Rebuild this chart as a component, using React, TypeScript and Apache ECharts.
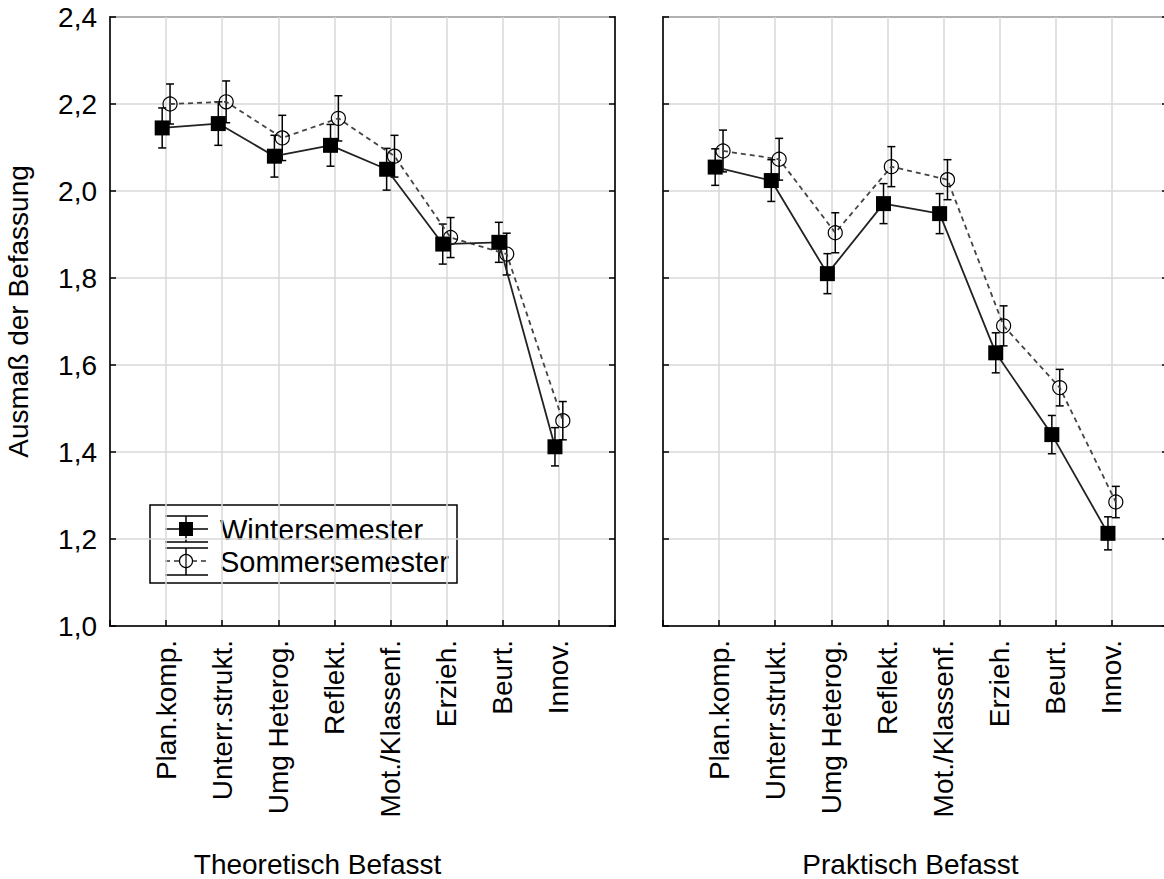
import React, { useEffect, useRef } from "react";
import * as echarts from "echarts";

const categories = [
  "Plan.komp.",
  "Unterr.strukt.",
  "Umg Heterog.",
  "Reflekt.",
  "Mot./Klassenf.",
  "Erzieh.",
  "Beurt.",
  "Innov.",
];
const panelTitles = ["Theoretisch Befasst", "Praktisch Befasst"];
const seriesNames = ["Wintersemester", "Sommersemester"];
const yAxisTitle = "Ausmaß der Befassung";
const yTickValues = [1.0, 1.2, 1.4, 1.6, 1.8, 2.0, 2.2, 2.4];

// Theoretisch Befasst
const theoWinter = [2.145, 2.155, 2.08, 2.105, 2.05, 1.878, 1.882, 1.412];
const theoWinterErr = [0.046, 0.05, 0.048, 0.048, 0.048, 0.046, 0.046, 0.044];
const theoSummer = [2.2, 2.205, 2.122, 2.167, 2.08, 1.893, 1.855, 1.472];
const theoSummerErr = [0.046, 0.048, 0.052, 0.052, 0.048, 0.046, 0.048, 0.044];
// Praktisch Befasst
const prakWinter = [2.055, 2.024, 1.81, 1.971, 1.948, 1.628, 1.44, 1.213];
const prakWinterErr = [0.042, 0.048, 0.046, 0.046, 0.046, 0.046, 0.044, 0.038];
const prakSummer = [2.092, 2.073, 1.904, 2.056, 2.026, 1.69, 1.548, 1.285];
const prakSummerErr = [0.048, 0.048, 0.046, 0.046, 0.046, 0.046, 0.042, 0.036];

const FONT = "Liberation Sans, Arial, sans-serif";
const FS = 28;
const OFFSET = 0.07;
const GRID_COLOR = "#d9d9d9";
const TITLE_PADDING = [
  [0, 90, 0, 0],
  [0, 10, 0, 0],
];

function pts(vals: number[], off: number) {
  return vals.map((v, i) => [i + 1 + off, v]);
}
function errs(vals: number[], e: number[], off: number) {
  return vals.map((v, i) => [i + 1 + off, v - e[i], v + e[i]]);
}

function errorRender(params: any, api: any) {
  const x = api.value(0);
  const lo = api.coord([x, api.value(1)]);
  const hi = api.coord([x, api.value(2)]);
  const cap = 4;
  const style = { stroke: "#000", lineWidth: 1.5 };
  return {
    type: "group",
    children: [
      { type: "line", shape: { x1: lo[0], y1: lo[1], x2: hi[0], y2: hi[1] }, style },
      { type: "line", shape: { x1: lo[0] - cap, y1: lo[1], x2: lo[0] + cap, y2: lo[1] }, style },
      { type: "line", shape: { x1: hi[0] - cap, y1: hi[1], x2: hi[0] + cap, y2: hi[1] }, style },
    ],
  };
}

export default function App() {
  const ref = useRef<HTMLDivElement>(null);
  useEffect(() => {
    if (!ref.current) return;
    const chart = echarts.init(ref.current, null, { renderer: "svg" });

    const xAxisBase = (gridIndex: number) => ({
      type: "value",
      gridIndex,
      min: 0,
      max: 9,
      interval: 1,
      name: panelTitles[gridIndex],
      nameLocation: "middle",
      nameGap: 224,
      nameTextStyle: { fontSize: FS, color: "#000", fontFamily: FONT, padding: TITLE_PADDING[gridIndex] },
      axisLine: { show: true, onZero: false, lineStyle: { color: "#000", width: 1.5 } },
      axisTick: { show: true, inside: true, length: 6, lineStyle: { color: "#000", width: 1.5 } },
      axisLabel: {
        rotate: 90,
        margin: 14,
        fontSize: FS,
        color: "#000",
        fontFamily: FONT,
        showMinLabel: true,
        showMaxLabel: true,
        formatter: (v: number) => categories[Math.round(v) - 1] || "",
      },
      splitLine: { show: true, lineStyle: { color: GRID_COLOR, width: 1.5 } },
    });

    const yAxisBase = (gridIndex: number, position: string, labels: boolean) => ({
      type: "value",
      gridIndex,
      position,
      min: yTickValues[0],
      max: yTickValues[yTickValues.length - 1],
      interval: 0.2,
      name: labels ? yAxisTitle : "",
      nameLocation: "middle",
      nameGap: 78,
      nameTextStyle: { fontSize: FS, color: "#000", fontFamily: FONT, padding: [0, 0, 0, 20] },
      axisLine: { show: true, onZero: false, lineStyle: { color: "#000", width: 1.5 } },
      axisTick: { show: true, inside: true, length: 6, lineStyle: { color: "#000", width: 1.5 } },
      axisLabel: {
        show: labels,
        margin: 13,
        fontSize: FS,
        color: "#000",
        fontFamily: FONT,
        formatter: (v: number) => v.toFixed(1).replace(".", ","),
      },
      splitLine: { show: position === "left", lineStyle: { color: GRID_COLOR, width: 1.5 } },
    });

    const panelSeries = (
      idx: number,
      w: number[],
      we: number[],
      s: number[],
      se: number[]
    ) => [
      {
        type: "custom",
        name: seriesNames[0] + " CI",
        xAxisIndex: idx,
        yAxisIndex: idx * 2,
        renderItem: errorRender,
        encode: { x: 0, y: [1, 2] },
        data: errs(w, we, -OFFSET),
        z: 2,
        silent: true,
      },
      {
        type: "custom",
        name: seriesNames[1] + " CI",
        xAxisIndex: idx,
        yAxisIndex: idx * 2,
        renderItem: errorRender,
        encode: { x: 0, y: [1, 2] },
        data: errs(s, se, OFFSET),
        z: 2,
        silent: true,
      },
      {
        type: "line",
        name: seriesNames[0],
        xAxisIndex: idx,
        yAxisIndex: idx * 2,
        data: pts(w, -OFFSET),
        symbol: "rect",
        symbolSize: 15,
        lineStyle: { color: "#222", width: 1.8, type: "solid" },
        itemStyle: { color: "#000", borderColor: "#000", borderWidth: 0 },
        z: 4,
      },
      {
        type: "line",
        name: seriesNames[1],
        xAxisIndex: idx,
        yAxisIndex: idx * 2,
        data: pts(s, OFFSET),
        symbol: "circle",
        symbolSize: 14,
        lineStyle: { color: "#444", width: 1.8, type: [5, 4] },
        itemStyle: { color: "rgba(0,0,0,0)", borderColor: "#000", borderWidth: 1.2 },
        z: 3,
      },
    ];

    const legendX = 150;
    const legendY = 505;
    const symX = 186;
    const lw = { stroke: "#000", lineWidth: 1.5 };

    chart.setOption({
      animation: false,
      textStyle: { fontFamily: FONT },
      grid: [
        { left: 110, top: 17, width: 505, height: 609, show: true, borderColor: "#000", borderWidth: 1.5, backgroundColor: "#fff", outerBoundsMode: "none", containLabel: false },
        { left: 663, top: 17, width: 505, height: 609, show: true, borderColor: "#000", borderWidth: 1.5, backgroundColor: "#fff", outerBoundsMode: "none", containLabel: false },
      ],
      xAxis: [xAxisBase(0), xAxisBase(1)],
      yAxis: [
        yAxisBase(0, "left", true),
        yAxisBase(0, "right", false),
        yAxisBase(1, "left", false),
        yAxisBase(1, "right", false),
      ],
      series: [
        ...panelSeries(0, theoWinter, theoWinterErr, theoSummer, theoSummerErr),
        ...panelSeries(1, prakWinter, prakWinterErr, prakSummer, prakSummerErr),
      ],
      graphic: [
        {
          type: "group",
          z: 100,
          children: [
            { type: "rect", shape: { x: legendX, y: legendY, width: 307, height: 78 }, style: { fill: "#fff", stroke: "#000", lineWidth: 1.5 } },
            // Winter symbol
            { type: "line", shape: { x1: 165, y1: 516, x2: 208, y2: 516 }, style: lw },
            { type: "line", shape: { x1: 165, y1: 542, x2: 208, y2: 542 }, style: lw },
            { type: "line", shape: { x1: 165, y1: 529, x2: 208, y2: 529 }, style: lw },
            { type: "line", shape: { x1: symX, y1: 516, x2: symX, y2: 542 }, style: lw },
            { type: "rect", shape: { x: symX - 7, y: 522, width: 14, height: 14 }, style: { fill: "#000" } },
            { type: "text", x: 220, y: 530, style: { text: seriesNames[0], fontSize: 29, fontFamily: FONT, fill: "#000", verticalAlign: "middle", align: "left" } },
            // Summer symbol
            { type: "line", shape: { x1: 165, y1: 548, x2: 208, y2: 548 }, style: lw },
            { type: "line", shape: { x1: 165, y1: 575, x2: 208, y2: 575 }, style: lw },
            { type: "line", shape: { x1: 165, y1: 561, x2: 208, y2: 561 }, style: { stroke: "#333", lineWidth: 1.5, lineDash: [5, 4] } },
            { type: "line", shape: { x1: symX, y1: 548, x2: symX, y2: 575 }, style: lw },
            { type: "circle", shape: { cx: symX, cy: 561, r: 6.5 }, style: { fill: "#fff", stroke: "#000", lineWidth: 1.2 } },
            { type: "line", shape: { x1: symX, y1: 554, x2: symX, y2: 568 }, style: { stroke: "#000", lineWidth: 1.2 } },
            { type: "text", x: 220, y: 562, style: { text: seriesNames[1], fontSize: 29, fontFamily: FONT, fill: "#000", verticalAlign: "middle", align: "left" } },
          ],
        },
      ],
    });
    return () => chart.dispose();
  }, []);

  return (
    <div
      ref={ref}
      style={{ position: "absolute", left: 0, top: 0, width: 1164, height: 879, background: "#fff" }}
    />
  );
}
